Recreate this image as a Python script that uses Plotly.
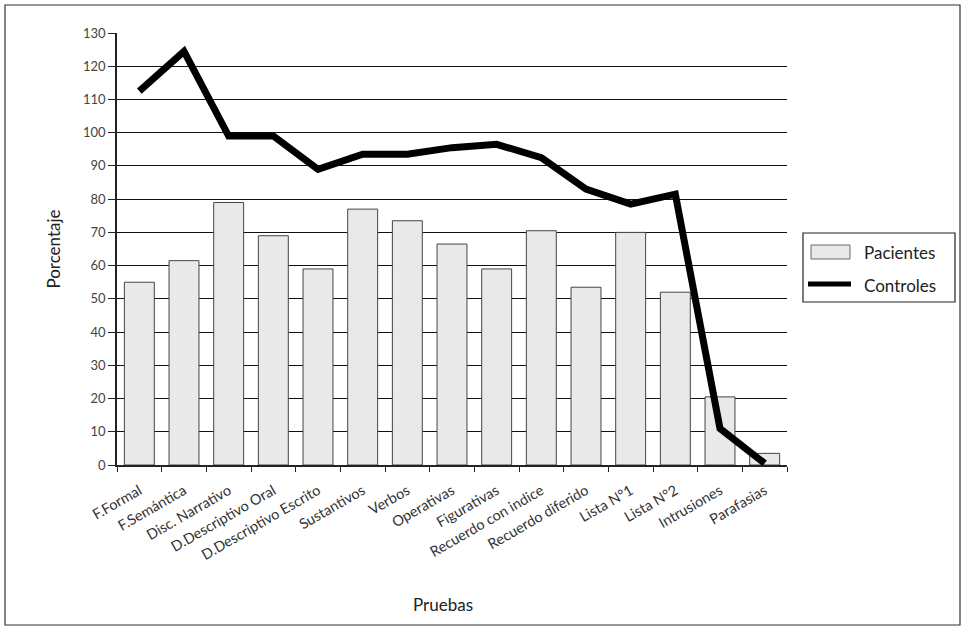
import plotly.graph_objects as go

categorias = ["F.Formal", "F.Semántica", "Disc. Narrativo", "D.Descriptivo Oral",
              "D.Descriptivo Escrito", "Sustantivos", "Verbos", "Operativas",
              "Figurativas", "Recuerdo con indice", "Recuerdo diferido",
              "Lista N°1", "Lista N°2", "Intrusiones", "Parafasias"]
pacientes = [55, 61.5, 79, 69, 59, 77, 73.5, 66.5, 59, 70.5, 53.5, 70, 52, 20.5, 3.5]
controles = [112.5, 124.5, 99, 99, 89, 93.5, 93.5, 95.5, 96.5, 92.5, 83, 78.5, 81.5, 11, 0.5]
y_ticks = list(range(0, 131, 10))

FONT = "Lato"

fig = go.Figure()
fig.add_trace(go.Bar(
    x=categorias, y=pacientes, name="Pacientes",
    marker=dict(color="#e9e9e9", line=dict(color="#444444", width=1)),
    width=0.67, showlegend=False,
))
fig.add_trace(go.Scatter(
    x=categorias, y=controles, name="Controles", mode="lines",
    line=dict(color="#000000", width=7), showlegend=False,
))

# custom legend (paper coords: x=(px-117)/670, y=(465-py)/432)
def px_x(p):
    return (p - 117) / 670
def px_y(p):
    return (465 - p) / 432

shapes = [
    dict(type="rect", xref="paper", yref="paper",
         x0=px_x(5), x1=px_x(960), y0=px_y(625), y1=px_y(5),
         line=dict(color="#333333", width=1.2), layer="below"),
    dict(type="rect", xref="paper", yref="paper",
         x0=px_x(803), x1=px_x(955), y0=px_y(302), y1=px_y(233),
         line=dict(color="#222222", width=1.2), fillcolor="white"),
    dict(type="rect", xref="paper", yref="paper",
         x0=px_x(811), x1=px_x(850), y0=px_y(259), y1=px_y(245),
         line=dict(color="#666666", width=1), fillcolor="#e9e9e9"),
    dict(type="line", xref="paper", yref="paper",
         x0=px_x(808), x1=px_x(851), y0=px_y(284), y1=px_y(284),
         line=dict(color="#000000", width=5)),
]
annotations = [
    dict(text="Pacientes", xref="paper", yref="paper", x=px_x(862), y=px_y(252),
         xanchor="left", yanchor="middle", showarrow=False,
         font=dict(size=17, family=FONT, color="#222222")),
    dict(text="Controles", xref="paper", yref="paper", x=px_x(862), y=px_y(285),
         xanchor="left", yanchor="middle", showarrow=False,
         font=dict(size=17, family=FONT, color="#222222")),
    dict(text="Pruebas", xref="paper", yref="paper", x=px_x(443), y=px_y(604),
         xanchor="center", yanchor="middle", showarrow=False,
         font=dict(size=17, family=FONT, color="#222222")),
]

fig.update_layout(
    width=962, height=628,
    margin=dict(l=117, r=175, t=33, b=163),
    paper_bgcolor="white", plot_bgcolor="white",
    font=dict(family=FONT, color="#333333", size=13),
    showlegend=False,
    bargap=0.33,
    xaxis=dict(
        type="category",
        tickangle=-30,
        showline=True, linecolor="#222222", linewidth=1.5,
        ticks="outside", tickson="boundaries", ticklen=5, tickcolor="#222222",
        ticklabelstandoff=10,
        showgrid=False,
        tickfont=dict(size=14.5, family=FONT, color="#333333"),
    ),
    yaxis=dict(
        range=[0, 130],
        tickvals=y_ticks,
        showline=True, linecolor="#222222", linewidth=1.5,
        ticks="outside", ticklen=7, tickcolor="#222222",
        showgrid=True, gridcolor="#111111", gridwidth=1.2,
        zeroline=False,
        tickfont=dict(size=13, family=FONT, color="#444444"),
        title=dict(text="Porcentaje", font=dict(size=17, family=FONT, color="#222222"), standoff=18),
    ),
    shapes=shapes,
    annotations=annotations,
)

fig.write_html("out.html")
